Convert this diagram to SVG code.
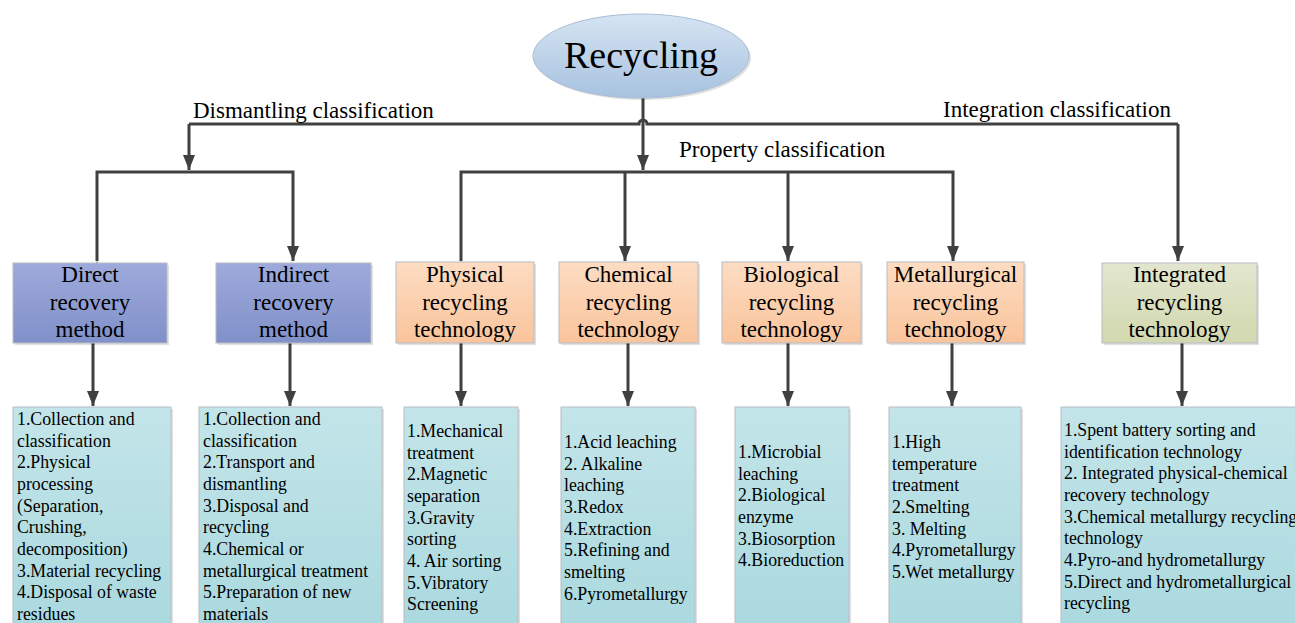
<svg xmlns="http://www.w3.org/2000/svg" width="1295" height="623" viewBox="0 0 1295 623">
<style>
.conn{fill:none;stroke:#404040;stroke-width:3}
.lbl{font-family:"Liberation Serif",serif;font-size:23px;fill:#000}
.ttl{font-family:"Liberation Serif",serif;font-size:23px;fill:#000;text-anchor:middle}
.lst{font-family:"Liberation Serif",serif;font-size:17.8px;fill:#000}
.shadow{fill:#000;opacity:0.12}
.bx{stroke:#b8bcc4;stroke-width:1}
</style>
<defs>
<linearGradient id="gEll" x1="0" y1="0" x2="0" y2="1"><stop offset="0" stop-color="#d6e4f2"/><stop offset="1" stop-color="#a7c2e0"/></linearGradient>
<linearGradient id="gBlue" x1="0" y1="0" x2="0" y2="1"><stop offset="0" stop-color="#9eaadb"/><stop offset="1" stop-color="#8090c9"/></linearGradient>
<linearGradient id="gOr" x1="0" y1="0" x2="0" y2="1"><stop offset="0" stop-color="#fddcc2"/><stop offset="1" stop-color="#f9c49c"/></linearGradient>
<linearGradient id="gGr" x1="0" y1="0" x2="0" y2="1"><stop offset="0" stop-color="#e3e6cf"/><stop offset="1" stop-color="#d2d8ae"/></linearGradient>
<linearGradient id="gCy" x1="0" y1="0" x2="0" y2="1"><stop offset="0" stop-color="#c3e5e9"/><stop offset="1" stop-color="#a8d8de"/></linearGradient>
<marker id="ad" markerUnits="userSpaceOnUse" markerWidth="16" markerHeight="14" refX="15" refY="7" orient="auto" viewBox="0 0 16 14">
<path d="M0,1 L15,7 L0,13 Z" fill="#404040"/>
</marker>
</defs>

<g id="connectors">
<path class="conn" d="M189,124 L639,124 A4,4 0 0 1 647,124 L1178,124"/>
<path class="conn" d="M643,98 L643,170" marker-end="url(#ad)"/>
<path class="conn" d="M189,124 L189,170" marker-end="url(#ad)"/>
<path class="conn" d="M1178,124 L1178,261" marker-end="url(#ad)"/>
<path class="conn" d="M97,261 L97,172 L293,172 L293,261" marker-end="url(#ad)" marker-start="url(#ad)"/>
<path class="conn" d="M461,261 L461,172 L953,172 L953,261" marker-end="url(#ad)" marker-start="url(#ad)"/>
<path class="conn" d="M625,172 L625,261" marker-end="url(#ad)"/>
<path class="conn" d="M788,172 L788,261" marker-end="url(#ad)"/>
<path class="conn" d="M93,343 L93,406" marker-end="url(#ad)"/>
<path class="conn" d="M290,343 L290,406" marker-end="url(#ad)"/>
<path class="conn" d="M461,343 L461,406" marker-end="url(#ad)"/>
<path class="conn" d="M628,343 L628,406" marker-end="url(#ad)"/>
<path class="conn" d="M788,343 L788,406" marker-end="url(#ad)"/>
<path class="conn" d="M952,343 L952,406" marker-end="url(#ad)"/>
<path class="conn" d="M1182,343 L1182,406" marker-end="url(#ad)"/>
</g>

<g id="labels">
<text class="lbl" x="193" y="118">Dismantling classification</text>
<text class="lbl" x="943" y="117">Integration classification</text>
<text class="lbl" x="679" y="157">Property classification</text>
</g>

<g id="root">
<ellipse cx="643" cy="58" rx="108" ry="42" class="shadow"/>
<ellipse cx="641" cy="56" rx="108" ry="42" fill="url(#gEll)" stroke="#a9bed6" stroke-width="1"/>
<text x="641" y="68" font-family="Liberation Serif, serif" font-size="38" text-anchor="middle">Recycling</text>
</g>

<g id="direct">
<rect x="15" y="265" width="154" height="80" class="shadow"/>
<rect x="13" y="263" width="154" height="80" fill="url(#gBlue)" class="bx"/>
<text class="ttl" x="90" y="282">Direct</text><text class="ttl" x="90" y="309.5">recovery</text><text class="ttl" x="90" y="337">method</text>
</g>
<g id="indirect">
<rect x="218" y="265" width="155" height="80" class="shadow"/>
<rect x="216" y="263" width="155" height="80" fill="url(#gBlue)" class="bx"/>
<text class="ttl" x="293.5" y="282">Indirect</text><text class="ttl" x="293.5" y="309.5">recovery</text><text class="ttl" x="293.5" y="337">method</text>
</g>
<g id="physical">
<rect x="398" y="264" width="138" height="81" class="shadow"/>
<rect x="396" y="262" width="138" height="81" fill="url(#gOr)" class="bx"/>
<text class="ttl" x="465" y="282">Physical</text><text class="ttl" x="465" y="309.5">recycling</text><text class="ttl" x="465" y="337">technology</text>
</g>
<g id="chemical">
<rect x="561" y="264" width="139" height="81" class="shadow"/>
<rect x="559" y="262" width="139" height="81" fill="url(#gOr)" class="bx"/>
<text class="ttl" x="628.5" y="282">Chemical</text><text class="ttl" x="628.5" y="309.5">recycling</text><text class="ttl" x="628.5" y="337">technology</text>
</g>
<g id="biological">
<rect x="724" y="264" width="139" height="81" class="shadow"/>
<rect x="722" y="262" width="139" height="81" fill="url(#gOr)" class="bx"/>
<text class="ttl" x="791.5" y="282">Biological</text><text class="ttl" x="791.5" y="309.5">recycling</text><text class="ttl" x="791.5" y="337">technology</text>
</g>
<g id="metallurgical">
<rect x="889" y="264" width="137" height="81" class="shadow"/>
<rect x="887" y="262" width="137" height="81" fill="url(#gOr)" class="bx"/>
<text class="ttl" x="955.5" y="282">Metallurgical</text><text class="ttl" x="955.5" y="309.5">recycling</text><text class="ttl" x="955.5" y="337">technology</text>
</g>
<g id="integrated">
<rect x="1104" y="265" width="155" height="80" class="shadow"/>
<rect x="1102" y="263" width="155" height="80" fill="url(#gGr)" class="bx"/>
<text class="ttl" x="1179.5" y="282">Integrated</text><text class="ttl" x="1179.5" y="309.5">recycling</text><text class="ttl" x="1179.5" y="337">technology</text>
</g>

<g id="direct-list">
<rect x="15" y="409" width="158" height="240" class="shadow"/>
<rect x="13" y="407" width="158" height="240" fill="url(#gCy)" class="bx"/>
<text class="lst" x="17" y="425">1.Collection and</text>
<text class="lst" x="17" y="446.7">classification</text>
<text class="lst" x="17" y="468.3">2.Physical</text>
<text class="lst" x="17" y="490">processing</text>
<text class="lst" x="17" y="511.7">(Separation,</text>
<text class="lst" x="17" y="533.3">Crushing,</text>
<text class="lst" x="17" y="555">decomposition)</text>
<text class="lst" x="17" y="576.7">3.Material recycling</text>
<text class="lst" x="17" y="598.3">4.Disposal of waste</text>
<text class="lst" x="17" y="620">residues</text>
</g>
<g id="indirect-list">
<rect x="201" y="409" width="183" height="240" class="shadow"/>
<rect x="199" y="407" width="183" height="240" fill="url(#gCy)" class="bx"/>
<text class="lst" x="203" y="425">1.Collection and</text>
<text class="lst" x="203" y="446.7">classification</text>
<text class="lst" x="203" y="468.3">2.Transport and</text>
<text class="lst" x="203" y="490">dismantling</text>
<text class="lst" x="203" y="511.7">3.Disposal and</text>
<text class="lst" x="203" y="533.3">recycling</text>
<text class="lst" x="203" y="555">4.Chemical or</text>
<text class="lst" x="203" y="576.7">metallurgical treatment</text>
<text class="lst" x="203" y="598.3">5.Preparation of new</text>
<text class="lst" x="203" y="620">materials</text>
</g>
<g id="physical-list">
<rect x="406" y="409" width="114" height="240" class="shadow"/>
<rect x="404" y="407" width="114" height="240" fill="url(#gCy)" class="bx"/>
<text class="lst" x="407" y="437">1.Mechanical</text>
<text class="lst" x="407" y="458.7">treatment</text>
<text class="lst" x="407" y="480.3">2.Magnetic</text>
<text class="lst" x="407" y="502">separation</text>
<text class="lst" x="407" y="523.7">3.Gravity</text>
<text class="lst" x="407" y="545.3">sorting</text>
<text class="lst" x="407" y="567">4. Air sorting</text>
<text class="lst" x="407" y="588.7">5.Vibratory</text>
<text class="lst" x="407" y="610.3">Screening</text>
</g>
<g id="chemical-list">
<rect x="563" y="409" width="134" height="240" class="shadow"/>
<rect x="561" y="407" width="134" height="240" fill="url(#gCy)" class="bx"/>
<text class="lst" x="564" y="448">1.Acid leaching</text>
<text class="lst" x="564" y="469.7">2. Alkaline</text>
<text class="lst" x="564" y="491.3">leaching</text>
<text class="lst" x="564" y="513">3.Redox</text>
<text class="lst" x="564" y="534.7">4.Extraction</text>
<text class="lst" x="564" y="556.3">5.Refining and</text>
<text class="lst" x="564" y="578">smelting</text>
<text class="lst" x="564" y="599.7">6.Pyrometallurgy</text>
</g>
<g id="biological-list">
<rect x="737" y="409" width="114" height="240" class="shadow"/>
<rect x="735" y="407" width="114" height="240" fill="url(#gCy)" class="bx"/>
<text class="lst" x="738" y="458">1.Microbial</text>
<text class="lst" x="738" y="479.7">leaching</text>
<text class="lst" x="738" y="501.3">2.Biological</text>
<text class="lst" x="738" y="523">enzyme</text>
<text class="lst" x="738" y="544.7">3.Biosorption</text>
<text class="lst" x="738" y="566.3">4.Bioreduction</text>
</g>
<g id="metallurgical-list">
<rect x="891" y="409" width="132" height="240" class="shadow"/>
<rect x="889" y="407" width="132" height="240" fill="url(#gCy)" class="bx"/>
<text class="lst" x="892" y="448">1.High</text>
<text class="lst" x="892" y="469.7">temperature</text>
<text class="lst" x="892" y="491.3">treatment</text>
<text class="lst" x="892" y="513">2.Smelting</text>
<text class="lst" x="892" y="534.7">3. Melting</text>
<text class="lst" x="892" y="556.3">4.Pyrometallurgy</text>
<text class="lst" x="892" y="578">5.Wet metallurgy</text>
</g>
<g id="integrated-list">
<rect x="1063" y="409" width="250" height="240" class="shadow"/>
<rect x="1061" y="407" width="250" height="240" fill="url(#gCy)" class="bx"/>
<text class="lst" x="1064" y="436">1.Spent battery sorting and</text>
<text class="lst" x="1064" y="457.7">identification technology</text>
<text class="lst" x="1064" y="479.3">2. Integrated physical-chemical</text>
<text class="lst" x="1064" y="501">recovery technology</text>
<text class="lst" x="1064" y="522.7">3.Chemical metallurgy recycling</text>
<text class="lst" x="1064" y="544.3">technology</text>
<text class="lst" x="1064" y="566">4.Pyro-and hydrometallurgy</text>
<text class="lst" x="1064" y="587.7">5.Direct and hydrometallurgical</text>
<text class="lst" x="1064" y="609.3">recycling</text>
</g>
</svg>
